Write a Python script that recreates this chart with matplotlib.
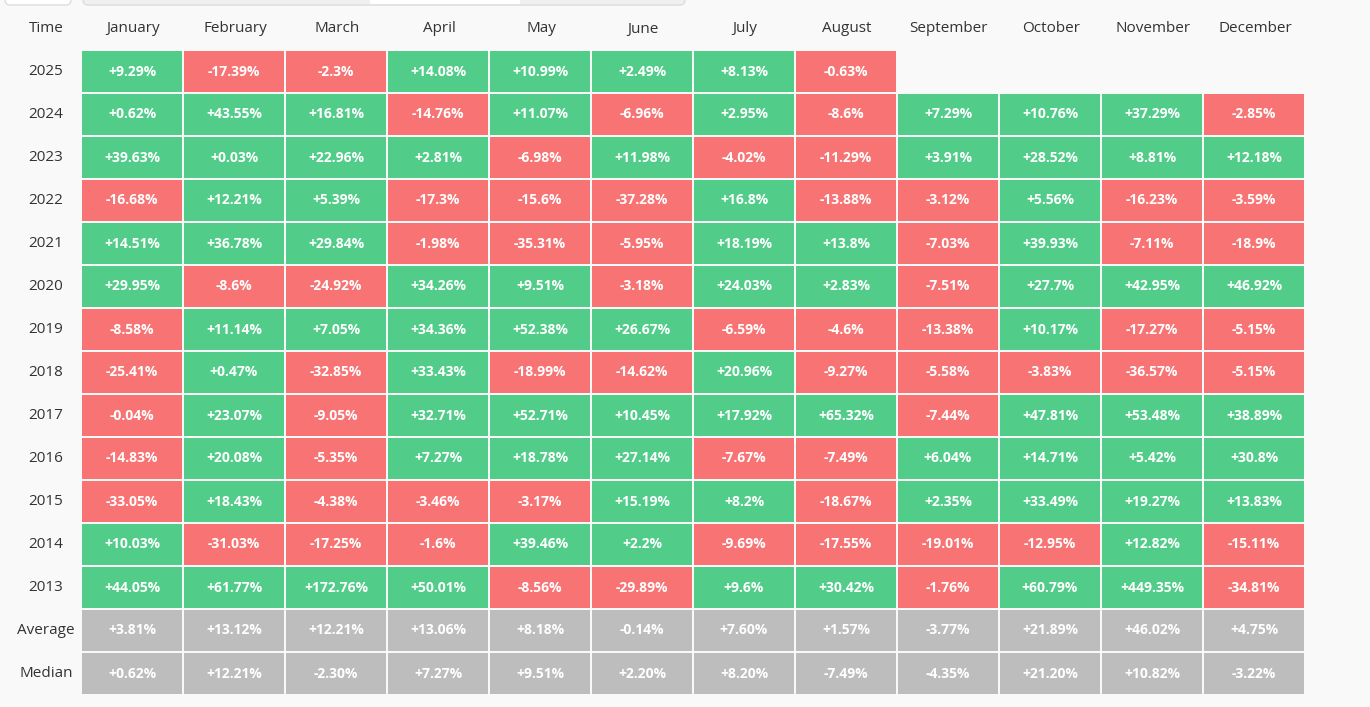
import matplotlib
matplotlib.use("Agg")
import matplotlib.pyplot as plt
from matplotlib.patches import Rectangle, FancyBboxPatch

months = ["January","February","March","April","May","June","July","August",
          "September","October","November","December"]
years = ["2025","2024","2023","2022","2021","2020","2019","2018","2017","2016","2015","2014","2013"]
values = [
 [9.29,-17.39,-2.3,14.08,10.99,2.49,8.13,-0.63,None,None,None,None],
 [0.62,43.55,16.81,-14.76,11.07,-6.96,2.95,-8.6,7.29,10.76,37.29,-2.85],
 [39.63,0.03,22.96,2.81,-6.98,11.98,-4.02,-11.29,3.91,28.52,8.81,12.18],
 [-16.68,12.21,5.39,-17.3,-15.6,-37.28,16.8,-13.88,-3.12,5.56,-16.23,-3.59],
 [14.51,36.78,29.84,-1.98,-35.31,-5.95,18.19,13.8,-7.03,39.93,-7.11,-18.9],
 [29.95,-8.6,-24.92,34.26,9.51,-3.18,24.03,2.83,-7.51,27.7,42.95,46.92],
 [-8.58,11.14,7.05,34.36,52.38,26.67,-6.59,-4.6,-13.38,10.17,-17.27,-5.15],
 [-25.41,0.47,-32.85,33.43,-18.99,-14.62,20.96,-9.27,-5.58,-3.83,-36.57,-5.15],
 [-0.04,23.07,-9.05,32.71,52.71,10.45,17.92,65.32,-7.44,47.81,53.48,38.89],
 [-14.83,20.08,-5.35,7.27,18.78,27.14,-7.67,-7.49,6.04,14.71,5.42,30.8],
 [-33.05,18.43,-4.38,-3.46,-3.17,15.19,8.2,-18.67,2.35,33.49,19.27,13.83],
 [10.03,-31.03,-17.25,-1.6,39.46,2.2,-9.69,-17.55,-19.01,-12.95,12.82,-15.11],
 [44.05,61.77,172.76,50.01,-8.56,-29.89,9.6,30.42,-1.76,60.79,449.35,-34.81],
]
average = ["+3.81%","+13.12%","+12.21%","+13.06%","+8.18%","-0.14%","+7.60%","+1.57%",
           "-3.77%","+21.89%","+46.02%","+4.75%"]
median = ["+0.62%","+12.21%","-2.30%","+7.27%","+9.51%","+2.20%","+8.20%","-7.49%",
          "-4.35%","+21.20%","+10.82%","-3.22%"]

GREEN, RED, GRAY = "#51cd89", "#f87374", "#bdbdbd"
W, H = 1370, 707
fig = plt.figure(figsize=(W/100, H/100), dpi=100)
fig.patch.set_facecolor("#f9f9f9")
ax = fig.add_axes([0, 0, 1, 1])
ax.set_xlim(0, W); ax.set_ylim(H, 0); ax.axis("off")
FONT = "Open Sans"

x0, cw, gap = 82, 102.0, 2
y0, rh = 51, 43
ax.add_patch(FancyBboxPatch((5, -20), 66, 25, boxstyle="round,pad=0,rounding_size=5",
                            fc="white", ec="#dddddd", lw=1))
ax.add_patch(FancyBboxPatch((83, -20), 602, 25, boxstyle="round,pad=0,rounding_size=5",
                            fc="#f0f0f0", ec="#dddddd", lw=1))
ax.add_patch(Rectangle((370, -5), 150, 9, fc="white", ec="none"))

ax.text(46, 29, "Time", ha="center", va="center", fontsize=11, color="#333333", family=FONT)
for j, m in enumerate(months):
    ax.text(x0 + j*cw + cw/2, 29, m, ha="center", va="center", fontsize=11,
            color="#333333", family=FONT)

def cell(i, j, fc, txt):
    x = x0 + j*cw; y = y0 + i*rh
    ax.add_patch(Rectangle((x, y), cw-gap, rh-gap, fc=fc, ec="none"))
    ax.text(x + (cw-gap)/2, y + (rh-gap)/2, txt, ha="center", va="center",
            fontsize=10, color="white", weight="bold", family=FONT)

for i, (yr, row) in enumerate(zip(years, values)):
    ax.text(46, y0 + i*rh + (rh-gap)/2, yr, ha="center", va="center", fontsize=11,
            color="#333333", family=FONT)
    for j, v in enumerate(row):
        if v is None:
            continue
        cell(i, j, GREEN if v >= 0 else RED, f"{v:+g}%")

for k, (lab, arr) in enumerate([("Average", average), ("Median", median)]):
    i = len(years) + k
    ax.text(46, y0 + i*rh + (rh-gap)/2, lab, ha="center", va="center", fontsize=11,
            color="#333333", family=FONT)
    for j, t in enumerate(arr):
        cell(i, j, GRAY, t)

fig.savefig("out.png", dpi=100, facecolor=fig.get_facecolor())
